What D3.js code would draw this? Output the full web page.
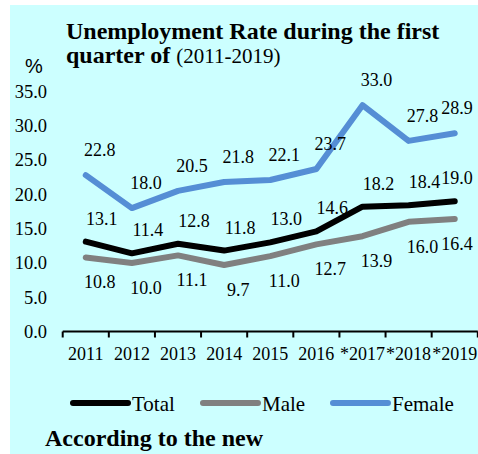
<!DOCTYPE html>
<html>
<head>
<meta charset="utf-8">
<script src="https://cdn.jsdelivr.net/npm/d3@7"></script>
<style>
  html, body { margin: 0; padding: 0; background: #ffffff; }
  svg { display: block; }
  text { font-family: "Times New Roman", "Liberation Serif", serif; fill: #000; }
</style>
</head>
<body>
<svg id="chart" width="478" height="454"></svg>
<script>
// Unemployment rate, first quarter of each year (%)
const years = ["2011", "2012", "2013", "2014", "2015", "2016", "*2017", "*2018", "*2019"];
const totalRate  = [13.1, 11.4, 12.8, 11.8, 13.0, 14.6, 18.2, 18.4, 19.0];
const maleRate   = [10.8, 10.0, 11.1, 9.7, 11.0, 12.7, 13.9, 16.0, 16.4];
const femaleRate = [22.8, 18.0, 20.5, 21.8, 22.1, 23.7, 33.0, 27.8, 28.9];
const yTicks = [0, 5, 10, 15, 20, 25, 30, 35];
const seriesNames = ["Total", "Male", "Female"];

const W = 478, H = 454;
const svg = d3.select("#chart");

// panel background
svg.append("rect")
  .attr("x", 10).attr("y", 5)
  .attr("width", W - 10).attr("height", H - 5)
  .attr("fill", "#ccffff");

const x = d3.scaleBand().domain(years).range([62.7, 477.8]).padding(0);
const y = d3.scaleLinear().domain([0, 35]).range([331.5, 91.5]);
const cx = d => x(d) + x.bandwidth() / 2;

// title
const title = svg.append("g");
title.append("text")
  .attr("x", 66).attr("y", 39)
  .attr("font-size", 24).attr("font-weight", "bold")
  .text("Unemployment Rate during the first");
const t2 = title.append("text")
  .attr("x", 66).attr("y", 63);
t2.append("tspan").attr("font-size", 24).attr("font-weight", "bold").text("quarter of ");
t2.append("tspan").attr("font-size", 21).text("(2011-2019)");

svg.append("text")
  .attr("x", 25).attr("y", 73)
  .attr("font-size", 20)
  .style("font-family", "Arial, 'Liberation Sans', sans-serif")
  .text("%");

// y axis labels (no axis line)
const yAxis = d3.axisLeft(y)
  .tickValues(yTicks)
  .tickFormat(d3.format(".1f"))
  .tickSize(0)
  .tickPadding(0);
const gy = svg.append("g").attr("transform", "translate(47,0)").call(yAxis);
gy.select(".domain").remove();
gy.selectAll("text")
  .attr("font-size", 18.5)
  .style("font-family", "'Times New Roman', 'Liberation Serif', serif")
  .attr("fill", "#000");

// x axis: baseline with ticks on category boundaries
const xAxisG = svg.append("g");
xAxisG.append("line")
  .attr("x1", x.range()[0]).attr("x2", x.range()[1])
  .attr("y1", y(0)).attr("y2", y(0))
  .attr("stroke", "#000").attr("stroke-width", 2);
xAxisG.selectAll("line.tick")
  .data(years.concat(["_end"]))
  .enter().append("line")
  .attr("class", "tick")
  .attr("x1", (d, i) => x.range()[0] + i * x.step())
  .attr("x2", (d, i) => x.range()[0] + i * x.step())
  .attr("y1", y(0)).attr("y2", y(0) + 6)
  .attr("stroke", "#000").attr("stroke-width", 2);
xAxisG.selectAll("text.xl")
  .data(years)
  .enter().append("text")
  .attr("class", "xl")
  .attr("x", d => cx(d))
  .attr("y", 360)
  .attr("text-anchor", "middle")
  .attr("font-size", 18)
  .text(d => d);

// series lines
const series = [
  { name: "Female", values: femaleRate, color: "#558ed5", dx: 14, dy: -19 },
  { name: "Male",   values: maleRate,   color: "#808080", dx: 14, dy: 31 },
  { name: "Total",  values: totalRate,  color: "#000000", dx: 16, dy: -17 }
];

const line = d3.line()
  .x((d, i) => cx(years[i]))
  .y(d => y(d));

series.forEach(s => {
  svg.append("path")
    .datum(s.values)
    .attr("d", line)
    .attr("fill", "none")
    .attr("stroke", s.color)
    .attr("stroke-width", 6)
    .attr("stroke-linejoin", "round")
    .attr("stroke-linecap", "round");
});

// value labels
series.forEach(s => {
  svg.append("g").selectAll("text")
    .data(s.values)
    .enter().append("text")
    .attr("x", (d, i) => Math.min(cx(years[i]) + s.dx, 457))
    .attr("y", d => y(d) + s.dy)
    .attr("text-anchor", "middle")
    .attr("font-size", 18)
    .text(d => d3.format(".1f")(d));
});

// legend
const legendColors = { Total: "#000000", Male: "#808080", Female: "#558ed5" };
const lg = svg.append("g").attr("transform", "translate(73,403)");
seriesNames.forEach((n, i) => {
  const g = lg.append("g").attr("transform", `translate(${i * 130},0)`);
  g.append("line")
    .attr("x1", 0).attr("x2", 55)
    .attr("y1", 0).attr("y2", 0)
    .attr("stroke", legendColors[n])
    .attr("stroke-width", 6)
    .attr("stroke-linecap", "round");
  g.append("text")
    .attr("x", 59).attr("y", 8)
    .attr("font-size", 21)
    .text(n);
});

// footnote
svg.append("text")
  .attr("x", 45).attr("y", 446)
  .attr("font-size", 24).attr("font-weight", "bold")
  .text("According to the new");
</script>
</body>
</html>
